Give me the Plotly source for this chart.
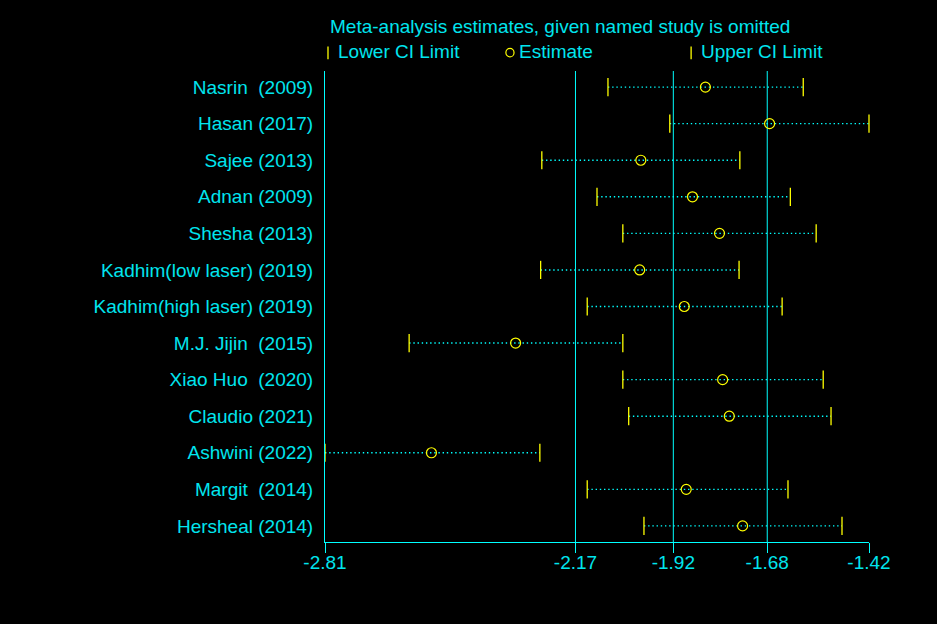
import plotly.graph_objects as go

# Leave-one-out estimates with 95% CI
studies = ["Nasrin  (2009)", "Hasan (2017)", "Sajee (2013)", "Adnan (2009)", "Shesha (2013)",
           "Kadhim(low laser) (2019)", "Kadhim(high laser) (2019)", "M.J. Jijin  (2015)",
           "Xiao Huo  (2020)", "Claudio (2021)", "Ashwini (2022)", "Margit  (2014)", "Hersheal (2014)"]
estimate = [-1.838, -1.674, -2.003, -1.871, -1.802, -2.006, -1.892, -2.323,
            -1.794, -1.777, -2.538, -1.887, -1.743]
lower = [-2.087, -1.929, -2.256, -2.115, -2.049, -2.259, -2.140, -2.595,
         -2.049, -2.034, -2.810, -2.140, -1.995]
upper = [-1.588, -1.420, -1.750, -1.621, -1.555, -1.752, -1.642, -2.049,
         -1.537, -1.517, -2.261, -1.627, -1.489]
xticks = [-2.81, -2.17, -1.92, -1.68, -1.42]
xticklabels = ["-2.81", "-2.17", "-1.92", "-1.68", "-1.42"]

CYAN = "#00FFFF"
TEXT = "#00E5EE"
YEL = "#FFFF00"
FONT = "Liberation Sans, Arial, sans-serif"

rows = list(range(len(studies)))

fig = go.Figure()

# dotted CI lines
xs, ys = [], []
for i in rows:
    xs += [lower[i], upper[i], None]
    ys += [i, i, None]
fig.add_trace(go.Scatter(x=xs, y=ys, mode="lines",
                         line=dict(color=CYAN, width=1.4, dash="1.4px,2.8px"),
                         hoverinfo="skip", showlegend=False))

# reference lines at the inner ticks
for v in xticks[1:4]:
    fig.add_vline(x=v, line=dict(color=CYAN, width=1), layer="below")

cap = dict(symbol="line-ns", size=13, line=dict(color=YEL, width=1.3))
fig.add_trace(go.Scatter(x=lower, y=rows, mode="markers", marker=cap,
                         name="Lower CI Limit", showlegend=False, cliponaxis=False))
fig.add_trace(go.Scatter(x=upper, y=rows, mode="markers", marker=cap,
                         name="Upper CI Limit", showlegend=False, cliponaxis=False))
fig.add_trace(go.Scatter(x=estimate, y=rows, mode="markers",
                         marker=dict(symbol="circle-open", size=10, color=YEL, line=dict(width=1.2)),
                         name="Estimate", showlegend=False, cliponaxis=False))

# title and hand-made legend row above the plot
fig.add_annotation(text="Meta-analysis estimates, given named study is omitted",
                   xref="paper", yref="paper", x=0.006, y=1.095, xanchor="left", yanchor="middle",
                   showarrow=False, font=dict(color=TEXT, size=19, family=FONT))
for xp, label in [(0.020, "Lower CI Limit"), (0.353, "Estimate"), (0.687, "Upper CI Limit")]:
    fig.add_annotation(text=label, xref="paper", yref="paper", x=xp, y=1.042,
                       xanchor="left", yanchor="middle", showarrow=False,
                       font=dict(color=TEXT, size=19, family=FONT))
for xp in [0.0055, 0.673]:
    fig.add_shape(type="line", xref="paper", yref="paper", x0=xp, x1=xp, y0=1.025, y1=1.052,
                  line=dict(color=YEL, width=1.3))
fig.add_shape(type="circle", xref="paper", yref="paper", x0=0.3325, x1=0.3475, y0=1.030, y1=1.048,
              line=dict(color=YEL, width=1.2))

fig.update_layout(
    width=937, height=624,
    margin=dict(l=325, r=68, t=71, b=82),
    paper_bgcolor="black", plot_bgcolor="black",
    font=dict(family=FONT, color=TEXT, size=19),
    showlegend=False,
)
fig.update_xaxes(range=[-2.81, -1.42], tickvals=xticks, ticktext=xticklabels,
                 showgrid=False, zeroline=False, showline=True, linecolor=CYAN, linewidth=1,
                 ticks="outside", ticklen=10, tickcolor=CYAN, tickwidth=1,
                 ticklabelstandoff=-7, tickfont=dict(size=19, color=TEXT))
fig.update_yaxes(range=[len(studies) - 0.56, -0.44], tickvals=rows, ticktext=studies,
                 showgrid=False, zeroline=False, showline=True, linecolor=CYAN, linewidth=1,
                 ticks="", ticklabelstandoff=7, tickfont=dict(size=19, color=TEXT))

fig.write_html("out.html", config={"displayModeBar": False},
               post_script="document.body.style.margin='0';document.body.style.background='black';")
